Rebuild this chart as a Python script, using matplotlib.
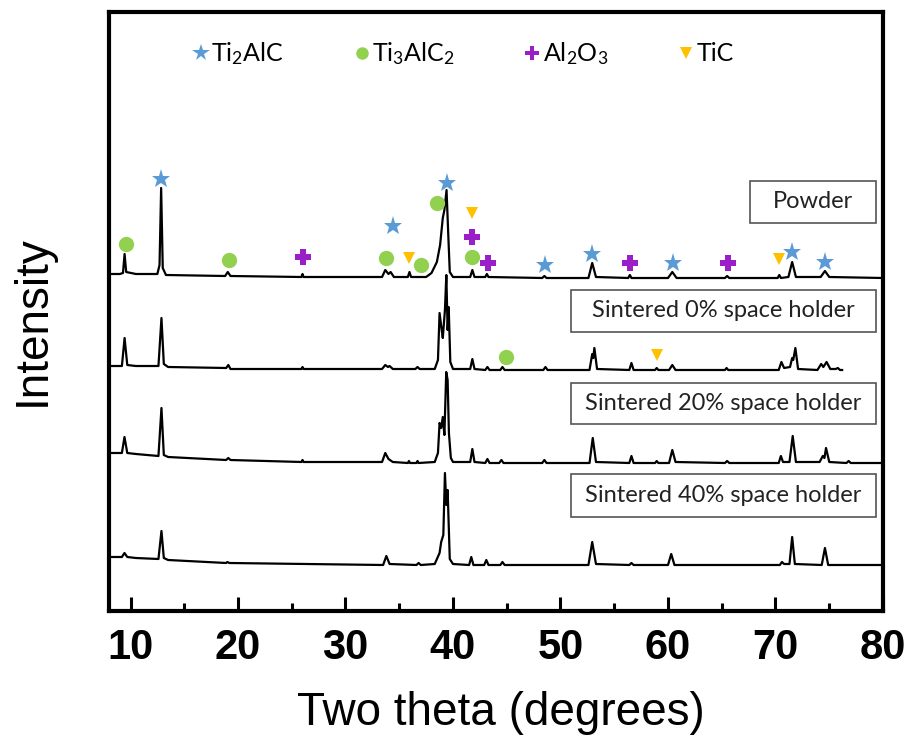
import matplotlib
matplotlib.use("Agg")
import matplotlib.pyplot as plt
from matplotlib.lines import Line2D
from matplotlib.patches import Rectangle

plt.rcParams["mathtext.fontset"] = "custom"
plt.rcParams["mathtext.rm"] = "Lato"
plt.rcParams["mathtext.it"] = "Lato:italic"

# XRD traces: two-theta vertices and heights above each trace's own baseline
powder_x = [8.0, 9.0, 9.3, 9.45, 9.6, 10.5,
            12.5, 12.7, 12.85, 13.0, 13.3,
            18.8, 19.05, 19.3,
            25.9, 26.0, 26.1,
            33.4, 33.7, 34.0, 34.2, 34.5,
            35.8, 35.95, 36.1,
            37.5, 38.0, 38.5, 38.8, 39.05, 39.2, 39.4, 39.55, 39.7, 40.0,
            41.6, 41.8, 42.0,
            43.0, 43.15, 43.3,
            48.3, 48.5, 48.7,
            52.6, 52.95, 53.3,
            56.3, 56.45, 56.6,
            60.0, 60.4, 60.8,
            65.3, 65.5, 65.7,
            70.2, 70.35, 70.5,
            71.2, 71.55, 71.9,
            74.2, 74.6, 75.0,
            80.0]
powder_y = [4, 4, 5, 24, 6, 4,
            4, 13, 90, 10, 3,
            2, 6, 2,
            1, 4, 1,
            1, 8, 4, 6, 1,
            1, 6, 1,
            1, 5, 16, 33, 60, 68, 88, 46, 6, 1,
            1, 8, 1,
            1, 4, 1,
            0, 2, 0,
            0, 15, 1,
            0, 3, 0,
            0, 6, 0,
            0, 2, 0,
            0, 3, 0,
            1, 16, 1,
            1, 7, 1,
            0]

s0_x = [8.0, 9.2, 9.45, 9.7, 10.5,
        12.6, 12.88, 13.1, 13.5,
        18.9, 19.1, 19.3,
        25.9, 26.0, 26.1,
        33.4, 33.7, 33.95, 34.1, 34.4,
        36.5, 36.7, 36.9,
        38.3, 38.6, 38.75, 38.95, 39.05, 39.25, 39.38, 39.5, 39.6, 39.75, 40.0,
        41.6, 41.8, 42.0,
        43.0, 43.2, 43.4,
        44.4, 44.6, 44.8,
        48.4, 48.6, 48.8,
        52.7, 52.95, 53.05, 53.15, 53.4,
        56.4, 56.6, 56.8,
        58.8, 58.95, 59.1,
        60.1, 60.4, 60.7,
        65.3, 65.45, 65.6,
        70.3, 70.55, 70.8,
        71.35, 71.55, 71.65, 71.85, 72.1,
        73.9, 74.25, 74.45, 74.75, 75.1,
        75.6, 75.8, 76.0, 76.2]
s0_y = [4, 4, 32, 5, 4,
        4, 52, 6, 3,
        2, 5, 1,
        1, 3, 1,
        1, 5, 3, 4, 1,
        1, 3, 1,
        1, 10, 57, 40, 32, 60, 95, 40, 63, 8, 1,
        1, 11, 1,
        0, 3, 0,
        0, 3, 0,
        0, 3, 0,
        0, 16, 12, 22, 1,
        0, 7, 0,
        0, 2, 0,
        0, 5, 0,
        0, 2, 0,
        0, 8, 2,
        3, 12, 10, 22, 1,
        0, 6, 3, 8, 1,
        1, 2, 0, 0]

s20_x = [8.0, 9.2, 9.44, 9.7, 10.5,
         12.6, 12.88, 13.1, 13.5,
         18.9, 19.1, 19.3,
         25.9, 26.0, 26.1,
         33.4, 33.7, 34.0, 34.4,
         35.8, 35.9, 36.0,
         36.6, 36.7, 36.8,
         38.3, 38.6, 38.75, 38.9, 39.05, 39.2, 39.37, 39.5, 39.62, 39.8, 40.0,
         41.6, 41.8, 42.0,
         43.0, 43.2, 43.4,
         44.3, 44.5, 44.7,
         48.3, 48.5, 48.7,
         52.7, 53.0, 53.3,
         56.4, 56.6, 56.8,
         58.8, 58.95, 59.1,
         60.1, 60.4, 60.7,
         65.3, 65.5, 65.7,
         70.3, 70.5, 70.7,
         71.3, 71.6, 71.9,
         74.1, 74.4, 74.55, 74.7, 75.0,
         76.6, 76.8, 77.0,
         80.0]
s20_y = [10, 10, 26, 10, 9,
         7, 55, 8, 6,
         3, 5, 3,
         1, 3, 1,
         1, 10, 4, 1,
         0, 2, 0,
         0, 2, 0,
         1, 10, 40, 35, 46, 28, 91, 83, 30, 5, 1,
         1, 14, 1,
         0, 4, 0,
         0, 3, 0,
         0, 3, 0,
         0, 25, 1,
         0, 7, 0,
         0, 2, 0,
         0, 13, 1,
         0, 2, 0,
         0, 7, 1,
         1, 27, 1,
         1, 7, 5, 15, 1,
         0, 2, 0,
         0]

s40_x = [8.0, 9.2, 9.44, 9.7, 10.5,
         12.6, 12.88, 13.1, 13.5,
         18.9, 19.0, 19.2,
         33.5, 33.8, 34.1,
         36.6, 36.8, 37.0,
         38.3, 38.75, 38.9, 39.1, 39.25, 39.38, 39.5, 39.7, 40.0,
         41.5, 41.7, 41.9,
         42.9, 43.1, 43.3,
         44.4, 44.6, 44.8,
         52.6, 52.95, 53.3,
         56.4, 56.6, 56.8,
         60.0, 60.3, 60.6,
         70.4, 70.6, 70.8,
         71.3, 71.55, 71.8,
         74.3, 74.6, 74.9,
         80.0]
s40_y = [8, 8, 12, 8, 7,
         6, 34, 7, 5,
         2, 3, 2,
         0, 9, 1,
         0, 2, 0,
         1, 12, 23, 30, 92, 60, 75, 6, 1,
         0, 8, 0,
         0, 5, 0,
         0, 3, 0,
         0, 23, 1,
         0, 2, 0,
         0, 11, 0,
         0, 3, 1,
         1, 28, 1,
         0, 17, 0,
         0]

trace_offsets = [333, 241, 148, 46]
trace_labels = ["Powder", "Sintered 0% space holder",
                "Sintered 20% space holder", "Sintered 40% space holder"]

# phase markers (two-theta, height)
ti2alc_x = [12.84, 39.42, 34.41, 48.60, 52.96, 60.43, 71.55, 74.57]
ti2alc_y = [432, 428, 385, 346, 357, 348, 359, 349]
ti3alc2_x = [9.56, 19.16, 33.75, 37.01, 38.47, 41.75, 44.91]
ti3alc2_y = [367, 351, 353, 346, 408, 354, 254]
al2o3_x = [26.04, 41.75, 43.23, 56.50, 65.54]
al2o3_y = [354, 374, 348, 348, 348]
tic_x = [35.89, 41.75, 70.28, 58.94]
tic_y = [353, 398, 352, 256]

fig = plt.figure(figsize=(9.12, 7.46), dpi=100)
ax = fig.add_axes([109 / 912, 135 / 746, 774 / 912, 599 / 746])

traces = [(powder_x, powder_y), (s0_x, s0_y), (s20_x, s20_y), (s40_x, s40_y)]
for (xs, ys), off in zip(traces, trace_offsets):
    ax.plot(xs, [v + off for v in ys], color="black", lw=1.6, zorder=2)

ax.plot(ti2alc_x, ti2alc_y, ls="none", marker="*", ms=14, color="#5B9BD5", mew=0, zorder=3)
ax.plot(ti3alc2_x, ti3alc2_y, ls="none", marker="o", ms=11, color="#92D050", mew=0, zorder=3)
ax.plot(al2o3_x, al2o3_y, ls="none", marker="P", ms=12, color="#9B1FC9", mew=0, zorder=3)
ax.plot(tic_x, tic_y, ls="none", marker="v", ms=9, color="#FFC000", mew=0, zorder=3)

handles = [
    Line2D([], [], ls="none", marker="*", ms=13, color="#5B9BD5", mew=0),
    Line2D([], [], ls="none", marker="o", ms=9, color="#92D050", mew=0),
    Line2D([], [], ls="none", marker="P", ms=10, color="#9B1FC9", mew=0),
    Line2D([], [], ls="none", marker="v", ms=8, color="#FFC000", mew=0),
]
names = [r"Ti$_2$AlC", r"Ti$_3$AlC$_2$", r"Al$_2$O$_3$", "TiC"]
ax.legend(handles, names, loc="center", bbox_to_anchor=(0.458, 0.930), ncol=4,
          frameon=False, handlelength=0.6, handletextpad=0.12, columnspacing=2.8,
          prop={"family": "Lato", "size": 18})

# sample label boxes (axes fraction: x0, y0, width, height)
boxes = [(0.828, 0.648, 0.163, 0.070),
         (0.597, 0.466, 0.394, 0.070),
         (0.597, 0.312, 0.394, 0.068),
         (0.597, 0.157, 0.394, 0.072)]
for (bx, by, bw, bh), label in zip(boxes, trace_labels):
    ax.add_patch(Rectangle((bx, by), bw, bh, transform=ax.transAxes, fill=True,
                           facecolor="white", edgecolor="#555555", lw=1.2, zorder=4))
    ax.text(bx + bw / 2, by + bh / 2, label, transform=ax.transAxes, ha="center",
            va="center", family="Lato", fontsize=17, color="#222222", zorder=5)

ax.set_xlim(8.0, 80)
ax.set_ylim(0, 599)
ax.set_xticks(range(10, 81, 10))
ax.set_xticks(range(15, 80, 10), minor=True)
ax.set_yticks([])
ax.tick_params(axis="x", which="major", direction="in", length=10, width=2.2,
               pad=12, top=False)
ax.tick_params(axis="x", which="minor", direction="in", length=5.5, width=2.2, top=False)
for lab in ax.get_xticklabels():
    lab.set_family("Liberation Sans")
    lab.set_fontweight("bold")
    lab.set_fontsize(30)
for sp in ax.spines.values():
    sp.set_linewidth(3)

ax.set_xlabel("Two theta (degrees)", family="Liberation Sans", fontsize=33)
ax.set_ylabel("Intensity", family="Liberation Sans", fontsize=33)
ax.xaxis.set_label_coords(0.506, -0.134)
ax.yaxis.set_label_coords(-0.070, 0.485)
ax.xaxis.label.set_va("top")

fig.savefig("out.png", dpi=100)
